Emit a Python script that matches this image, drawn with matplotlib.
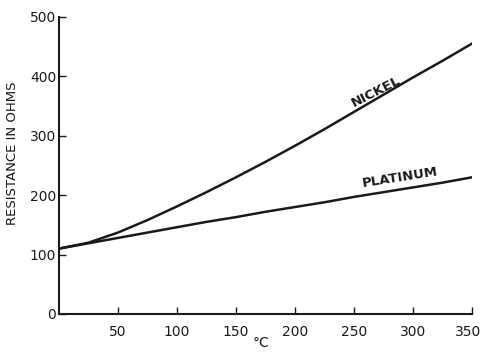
import matplotlib.pyplot as plt
import matplotlib.transforms as mtransforms

# temperature in deg C
temp = [0, 25, 50, 75, 100, 125, 150, 175, 200, 225, 250, 275, 300, 325, 350]
# resistance in ohms
nickel = [110, 120, 137, 158, 181, 205, 230, 256, 283, 311, 340, 369, 398, 426, 455]
platinum = [110, 119, 128, 137, 146, 155, 163, 172, 180, 188, 197, 205, 213, 221, 230]

xticks = [50, 100, 150, 200, 250, 300, 350]
yticks = [0, 100, 200, 300, 400, 500]

plt.rcParams['font.family'] = ['DejaVu Sans']

fig = plt.figure(figsize=(4.83, 3.52), dpi=100)
ax = fig.add_axes([0.122, 0.108, 0.855, 0.844])

ax.plot(temp, nickel, color='#1a1a1a', lw=1.8)
ax.plot(temp, platinum, color='#1a1a1a', lw=1.8)

ax.set_xlim(0, 350)
ax.set_ylim(0, 500)
ax.set_xticks(xticks)
ax.set_yticks(yticks)
ax.tick_params(direction='in', length=5, width=1, labelsize=10, colors='#1a1a1a')
ax.tick_params(axis='x', pad=8)
ax.tick_params(axis='y', pad=2)
for s in ['top', 'right']:
    ax.spines[s].set_visible(False)
for s in ['left', 'bottom']:
    ax.spines[s].set_linewidth(1.5)
    ax.spines[s].set_color('#1a1a1a')

# nudge the last x label so it stays inside the picture
last = ax.get_xticklabels()[-1]
last.set_transform(last.get_transform() +
                   mtransforms.ScaledTranslation(-4 / 100, 0, fig.dpi_scale_trans))

ax.set_ylabel('RESISTANCE IN OHMS', fontsize=9.5, color='#1a1a1a')
ax.yaxis.set_label_coords(-0.097, 0.54)
ax.set_xlabel('°C', fontsize=10, color='#1a1a1a', va='top')
ax.xaxis.set_label_coords(0.49, -0.075)

ax.text(269, 374, 'NICKEL', rotation=27, fontsize=9.5, fontweight='bold',
        ha='center', va='center', color='#1a1a1a')
ax.text(289, 229, 'PLATINUM', rotation=9, fontsize=9.5, fontweight='bold',
        ha='center', va='center', color='#1a1a1a')

fig.savefig('out.png', dpi=100)
